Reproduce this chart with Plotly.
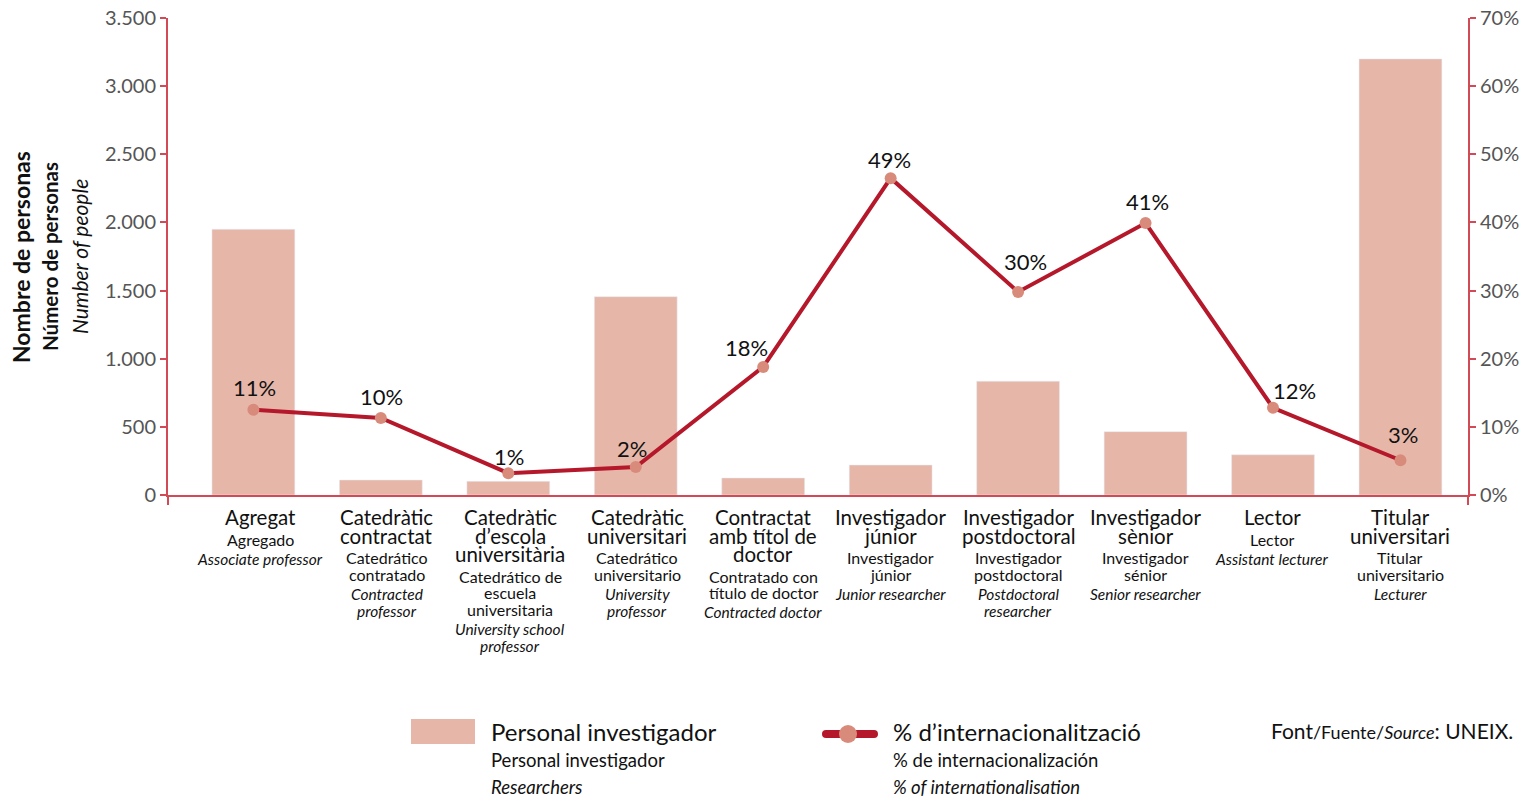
import plotly.graph_objects as go

categories_ca = ["Agregat", "Catedràtic\ncontractat", "Catedràtic\nd’escola\nuniversitària",
                 "Catedràtic\nuniversitari", "Contractat\namb títol de\ndoctor", "Investigador\njúnior",
                 "Investigador\npostdoctoral", "Investigador\nsènior", "Lector", "Titular\nuniversitari"]
categories_es = ["Agregado", "Catedrático\ncontratado", "Catedrático de\nescuela\nuniversitaria",
                 "Catedrático\nuniversitario", "Contratado con\ntítulo de doctor", "Investigador\njúnior",
                 "Investigador\npostdoctoral", "Investigador\nsénior", "Lector", "Titular\nuniversitario"]
categories_en = ["Associate professor", "Contracted\nprofessor", "University school\nprofessor",
                 "University\nprofessor", "Contracted doctor", "Junior researcher",
                 "Postdoctoral\nresearcher", "Senior researcher", "Assistant lecturer", "Lecturer"]

personal = [1950, 110, 100, 1455, 125, 220, 835, 465, 295, 3200]
internacionalitzacio = [12.5, 11.3, 3.2, 4.1, 18.8, 46.5, 29.8, 39.9, 12.8, 5.1]
etiquetes_pct = ["11%", "10%", "1%", "2%", "18%", "49%", "30%", "41%", "12%", "3%"]

y_ticks = [0, 500, 1000, 1500, 2000, 2500, 3000, 3500]
y2_ticks = [0, 10, 20, 30, 40, 50, 60, 70]
y2_labels = [f"{v}%" for v in y2_ticks]

# page body has an 8px margin, so work in screen pixels and shift
OFF = 8
W, H = 1536 - OFF, 798 - OFF
PL, PR, PT, PB = 168, 1468, 18, 495   # plot area on screen
FONT = "Lato"
AXIS_RED = "#d24a56"
BAR_COL = "#e6b7a9"
LINE_COL = "#b5182a"
MARK_COL = "#d98b7b"
TXT = "#111"

# small nudges of labels (pixels)
lab_dx = [1, 1, 1, -4, -17, -1, 7, 2, 21, 3]
lab_dy = [22, 22, 17, 19, 19, 19, 30, 22, 17, 26]
cat_dx = [7, 6, 2, 1.5, 0, 0, 0, 0, -1, 0]

def px_x(p):
    return (p - PL) / (PR - PL)

def px_y(p):
    return (PB - p) / (PB - PT)

xs = list(range(len(personal)))

fig = go.Figure()
fig.add_trace(go.Bar(x=xs, y=personal, marker_color=BAR_COL, width=0.65, yaxis="y",
                     showlegend=False))
fig.add_trace(go.Scatter(x=xs, y=internacionalitzacio, yaxis="y2", mode="lines+markers",
                         line=dict(color=LINE_COL, width=4),
                         marker=dict(color=MARK_COL, size=12),
                         showlegend=False, cliponaxis=False))

annotations = []
# percentage labels
for i in xs:
    annotations.append(dict(x=i, xref="x", y=internacionalitzacio[i], yref="y2",
                            text=etiquetes_pct[i], showarrow=False,
                            xshift=lab_dx[i], yshift=lab_dy[i],
                            xanchor="center", yanchor="middle",
                            font=dict(family=FONT, size=22, color=TXT)))

# category labels, one annotation per line
for i in xs:
    y = 517
    lines = []
    for j, t in enumerate(categories_ca[i].split("\n")):
        if j:
            y += 18.5
        lines.append((t, y, 20.5, False))
    y += 22
    for j, t in enumerate(categories_es[i].split("\n")):
        if j:
            y += 16.5
        lines.append((t, y, 16, False))
    y += 19.5
    for j, t in enumerate(categories_en[i].split("\n")):
        if j:
            y += 17
        lines.append((t, y, 15.5, True))
    for t, yy, sz, it in lines:
        annotations.append(dict(x=i, xref="x", y=px_y(yy), yref="paper", xshift=cat_dx[i],
                                text=f"<i>{t}</i>" if it else t, showarrow=False,
                                xanchor="center", yanchor="middle",
                                font=dict(family=FONT, size=sz, color=TXT)))

# y axis title (three languages)
for txt, xp, sz in [("<b>Nombre de personas</b>", 21, 23),
                    ("<b>Número de personas</b>", 50, 20.5),
                    ("<i>Number of people</i>", 80, 21)]:
    annotations.append(dict(x=px_x(xp), xref="paper", y=px_y(257), yref="paper", text=txt,
                            textangle=-90, showarrow=False, xanchor="center", yanchor="middle",
                            font=dict(family=FONT, size=sz, color=TXT)))

# legend texts
for txt, xp, yp, sz in [("Personal investigador", 489, 731, 24),
                        ("Personal investigador", 489, 760, 18.5),
                        ("<i>Researchers</i>", 489, 787, 18.5),
                        ("% d’internacionalització", 891, 731, 24),
                        ("% de internacionalización", 891, 760, 18.5),
                        ("<i>% of internationalisation</i>", 891, 787, 18.5)]:
    annotations.append(dict(x=px_x(xp), xref="paper", y=px_y(yp), yref="paper", text=txt,
                            showarrow=False, xanchor="left", yanchor="middle",
                            font=dict(family=FONT, size=sz, color=TXT)))
annotations.append(dict(x=px_x(1515), xref="paper", y=px_y(730), yref="paper",
                        text="Font<span style='font-size:18px'>/Fuente/<i>Source</i></span>: UNEIX.",
                        showarrow=False, xanchor="right", yanchor="middle",
                        font=dict(family=FONT, size=21, color=TXT)))

# legend swatch for the line: rounded bar
def pt(x, y):
    return f"{px_x(x):.5f},{px_y(y):.5f}"

x0, x1, yc, r = 822, 878, 734, 4
cap = (f"M{pt(x0 + r, yc - r)} L{pt(x1 - r, yc - r)} Q{pt(x1, yc - r)} {pt(x1, yc)} "
       f"Q{pt(x1, yc + r)} {pt(x1 - r, yc + r)} L{pt(x0 + r, yc + r)} "
       f"Q{pt(x0, yc + r)} {pt(x0, yc)} Q{pt(x0, yc - r)} {pt(x0 + r, yc - r)} Z")

shapes = [
    dict(type="rect", xref="paper", yref="paper", x0=px_x(411), x1=px_x(475),
         y0=px_y(744), y1=px_y(719), fillcolor=BAR_COL, line=dict(width=0)),
    dict(type="path", xref="paper", yref="paper", path=cap, fillcolor=LINE_COL,
         line=dict(width=0)),
    dict(type="circle", xref="paper", yref="paper", x0=px_x(839), x1=px_x(857),
         y0=px_y(743), y1=px_y(725), fillcolor=MARK_COL, line=dict(width=0)),
]

axis_common = dict(showgrid=False, zeroline=False, showline=True, linecolor=AXIS_RED,
                   linewidth=2, ticks="outside", ticklen=6, tickcolor=AXIS_RED, tickwidth=2,
                   automargin=False, ticklabeloverflow="allow",
                   tickfont=dict(family=FONT, size=20, color="#555"))

fig.update_layout(
    width=W, height=H,
    margin=dict(l=PL - OFF, r=W - (PR - OFF), t=PT - OFF, b=H - (PB - OFF), autoexpand=False),
    paper_bgcolor="white", plot_bgcolor="white",
    separators=",.", font=dict(family=FONT, color=TXT),
    xaxis=dict(range=[-0.67, 9.53], showgrid=False, zeroline=False, showline=True,
               linecolor=AXIS_RED, linewidth=2, tickvals=[-0.67, 9.53], ticks="outside",
               ticklen=8, tickcolor=AXIS_RED, tickwidth=2, showticklabels=False,
               automargin=False),
    yaxis=dict(range=[0, 3500], tickvals=y_ticks, tickformat=",d", **axis_common),
    yaxis2=dict(range=[0, 70], tickvals=y2_ticks, ticktext=y2_labels, overlaying="y",
                side="right", **axis_common),
    annotations=annotations, shapes=shapes,
)

fig.write_html("out.html")
